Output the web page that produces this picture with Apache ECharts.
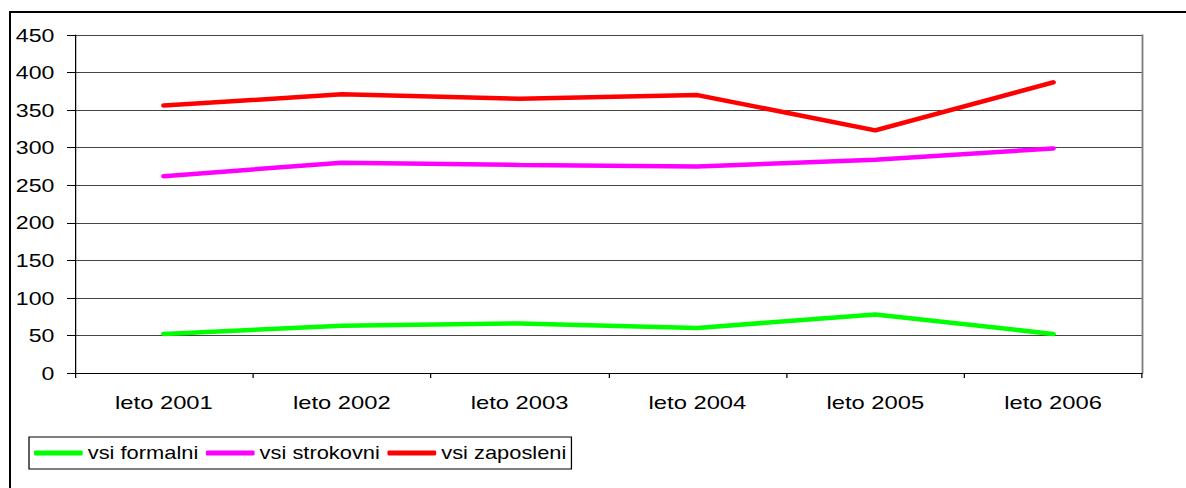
<!DOCTYPE html>
<html>
<head>
<meta charset="utf-8">
<script src="https://cdn.jsdelivr.net/npm/echarts@6/dist/echarts.min.js"></script>
<style>
  html, body { margin: 0; padding: 0; background: #fff; overflow: hidden; }
  #frame {
    position: absolute; left: 9px; top: 11px; width: 1300px; height: 600px;
    border-left: 2px solid #000; border-top: 2px solid #000;
  }
  /* the source picture is stretched sideways, so draw narrower and scale in x */
  #main {
    position: absolute; left: 0; top: 0; width: 949px; height: 488px;
    transform: scaleX(1.25); transform-origin: 0 0;
  }
</style>
</head>
<body>
<div id="frame"></div>
<div id="main"></div>
<script>
var categories = ['leto 2001', 'leto 2002', 'leto 2003', 'leto 2004', 'leto 2005', 'leto 2006'];
var formalni = [52, 63, 66, 60, 78, 52];
var strokovni = [262, 280, 277, 275, 284, 299];
var zaposleni = [356, 371, 365, 370, 323, 387];

var font = '"Liberation Sans", Arial, sans-serif';

var chart = echarts.init(document.getElementById('main'), null, { renderer: 'svg' });

var option = {
  animation: false,
  grid: { left: 60, right: 35.4, top: 35, bottom: 115 },
  legend: {
    left: 23.2, top: 437,
    padding: [7, 4, 7, 4],
    borderColor: '#000', borderWidth: 1,
    itemWidth: 39, itemHeight: 5, itemGap: 6,
    icon: 'roundRect',
    textStyle: { color: '#000', fontSize: 17.5, fontFamily: font, padding: [0, 0, 0, -1] },
    data: ['vsi formalni', 'vsi strokovni', 'vsi zaposleni']
  },
  xAxis: {
    type: 'category',
    data: categories,
    boundaryGap: true,
    axisLine: { lineStyle: { color: '#000', width: 1 } },
    axisTick: { show: true, length: 5, lineStyle: { color: '#000' } },
    axisLabel: { color: '#000', fontSize: 19, fontFamily: font, margin: 20 }
  },
  yAxis: [{
    type: 'value',
    min: 0, max: 450, interval: 50,
    axisLine: { show: true, lineStyle: { color: '#000', width: 1 } },
    axisTick: { show: true, length: 6.4, lineStyle: { color: '#000' } },
    axisLabel: { color: '#000', fontSize: 18.5, fontFamily: font, margin: 16.5 },
    splitLine: { show: true, lineStyle: { color: '#444', width: 1 } }
  }, {
    type: 'value',
    position: 'right',
    min: 0, max: 450, interval: 50,
    axisLine: { show: true, lineStyle: { color: '#808080', width: 1.5 } },
    axisTick: { show: false },
    axisLabel: { show: false },
    splitLine: { show: false }
  }],
  series: [
    { name: 'vsi formalni', type: 'line', data: formalni, symbol: 'none',
      itemStyle: { color: '#00ff00' }, lineStyle: { color: '#00ff00', width: 4.5, cap: 'round' } },
    { name: 'vsi strokovni', type: 'line', data: strokovni, symbol: 'none',
      itemStyle: { color: '#ff00ff' }, lineStyle: { color: '#ff00ff', width: 4.5, cap: 'round' } },
    { name: 'vsi zaposleni', type: 'line', data: zaposleni, symbol: 'none',
      itemStyle: { color: '#ff0000' }, lineStyle: { color: '#ff0000', width: 4.5, cap: 'round' } }
  ]
};

chart.setOption(option);
</script>
</body>
</html>
